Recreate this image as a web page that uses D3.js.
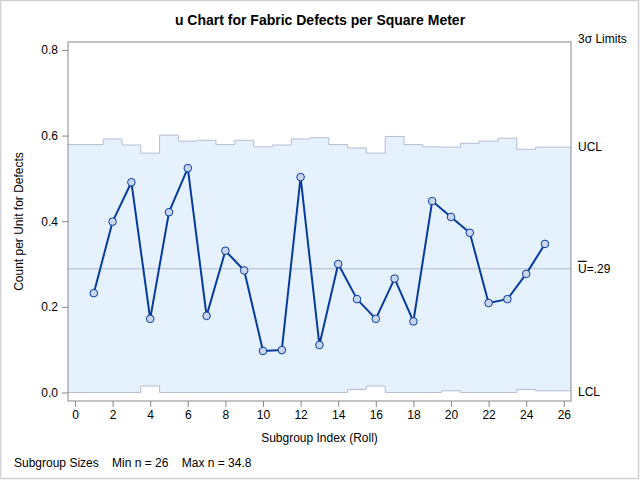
<!DOCTYPE html>
<html>
<head>
<meta charset="utf-8">
<script src="https://cdn.jsdelivr.net/npm/d3@7"></script>
<style>
  body { margin: 0; background: #fff; }
  svg { display: block; font-family: "Liberation Sans", Arial, sans-serif; }
</style>
</head>
<body>
<svg id="chart" width="640" height="480"></svg>
<script>
// ---- data ----
const subgroups = d3.range(1, 26);
const uValues = [0.232, 0.399, 0.491, 0.172, 0.421, 0.524, 0.179, 0.331, 0.285, 0.097,
                 0.099, 0.503, 0.111, 0.300, 0.218, 0.172, 0.266, 0.166, 0.447, 0.410,
                 0.373, 0.209, 0.218, 0.277, 0.347];
const uclValues = [0.579, 0.592, 0.578, 0.559, 0.601, 0.587, 0.589, 0.579, 0.589, 0.574,
                   0.578, 0.592, 0.595, 0.579, 0.571, 0.559, 0.598, 0.579, 0.574, 0.573,
                   0.582, 0.587, 0.594, 0.568, 0.573];
const lclValues = [0, 0, 0, 0.015, 0, 0, 0, 0, 0, 0,
                   0, 0, 0, 0, 0.007, 0.015, 0, 0, 0, 0.004,
                   0, 0, 0, 0.007, 0.004];
const centerLine = 0.289;
const xTicks = d3.range(0, 27, 2);
const yTicks = [0, 0.2, 0.4, 0.6, 0.8];

// ---- layout ----
const svg = d3.select("#chart");
const L = 68, R = 571, T = 42, B = 401;
const x = d3.scaleLinear().domain([-0.372, 26.383]).range([L, R]);
const y = d3.scaleLinear().domain([-0.0199, 0.8186]).range([B, T]);
const axisColor = "#888";
const limitColor = "#B4BDD2";

// outer border
svg.append("rect").attr("x", 0.5).attr("y", 0.5).attr("width", 638).attr("height", 478)
  .attr("fill", "none").attr("stroke", "#d0d0d0").attr("stroke-width", 1.5);

// step data
const xmin = x.domain()[0], xmax = x.domain()[1];
const steps = subgroups.map((s, i) => ({ x: i === 0 ? xmin : s - 0.5, ucl: uclValues[i], lcl: lclValues[i] }));
steps.push({ x: xmax, ucl: uclValues[24], lcl: lclValues[24] });

const area = d3.area().curve(d3.curveStepAfter)
  .x(d => x(d.x)).y0(d => y(d.lcl)).y1(d => y(d.ucl));
svg.append("path").datum(steps).attr("d", area).attr("fill", "#E6F1FE");

const uclLine = d3.line().curve(d3.curveStepAfter).x(d => x(d.x)).y(d => y(d.ucl));
const lclLine = d3.line().curve(d3.curveStepAfter).x(d => x(d.x)).y(d => y(d.lcl));
svg.append("path").datum(steps).attr("d", uclLine).attr("fill", "none").attr("stroke", limitColor).attr("stroke-width", 1);
svg.append("path").datum(steps).attr("d", lclLine).attr("fill", "none").attr("stroke", limitColor).attr("stroke-width", 1);

// center line
svg.append("line").attr("x1", L).attr("x2", R).attr("y1", y(centerLine)).attr("y2", y(centerLine))
  .attr("stroke", limitColor).attr("stroke-width", 1);

// frame
svg.append("rect").attr("x", L).attr("y", T).attr("width", R - L).attr("height", B - T)
  .attr("fill", "none").attr("stroke", axisColor).attr("stroke-width", 1);

// axes
const yAxis = svg.append("g").attr("transform", `translate(${L},0)`)
  .call(d3.axisLeft(y).tickValues(yTicks).tickFormat(d3.format(".1f")).tickSize(6).tickPadding(4));
const xAxis = svg.append("g").attr("transform", `translate(0,${B})`)
  .call(d3.axisBottom(x).tickValues(xTicks).tickFormat(d3.format("d")).tickSize(6).tickPadding(3));
[yAxis, xAxis].forEach(g => {
  g.select(".domain").remove();
  g.selectAll(".tick line").attr("stroke", axisColor);
  g.selectAll(".tick text").attr("fill", "#000").style("font-size", "12px")
    .style("font-family", "'Liberation Sans', Arial, sans-serif");
});

// data line
const pts = subgroups.map((s, i) => ({ s, v: uValues[i] }));
svg.append("path").datum(pts)
  .attr("d", d3.line().x(d => x(d.s)).y(d => y(d.v)))
  .attr("fill", "none").attr("stroke", "#083B9C").attr("stroke-width", 2).attr("stroke-linejoin", "round");
svg.selectAll("circle.pt").data(pts).enter().append("circle").attr("class", "pt")
  .attr("cx", d => x(d.s)).attr("cy", d => y(d.v)).attr("r", 3.8)
  .attr("fill", "#C9D6EE").attr("stroke", "#083B9C").attr("stroke-width", 1);

// texts
svg.append("text").attr("x", 320).attr("y", 25).attr("text-anchor", "middle")
  .style("font-size", "14px").style("font-weight", "bold")
  .text("u Chart for Fabric Defects per Square Meter");
svg.append("text").attr("transform", `translate(23,${(T + B) / 2}) rotate(-90)`)
  .attr("text-anchor", "middle").style("font-size", "12px")
  .text("Count per Unit for Defects");
svg.append("text").attr("x", (L + R) / 2).attr("y", 442).attr("text-anchor", "middle")
  .style("font-size", "12px").text("Subgroup Index (Roll)");
svg.append("text").attr("x", 14).attr("y", 467).style("font-size", "12px")
  .attr("xml:space", "preserve")
  .text("Subgroup Sizes    Min n = 26    Max n = 34.8");

const rx = 578;
svg.append("text").attr("x", rx).attr("y", 43).style("font-size", "12px").text("3σ Limits");
svg.append("text").attr("x", rx).attr("y", y(uclValues[24]) + 4).style("font-size", "12px").text("UCL");
const ct = svg.append("text").attr("x", rx).attr("y", y(centerLine) + 4).style("font-size", "12px");
ct.append("tspan").style("text-decoration", "overline").text("U");
ct.append("tspan").text("=.29");
svg.append("text").attr("x", rx).attr("y", y(0) + 4).style("font-size", "12px").text("LCL");
</script>
</body>
</html>
